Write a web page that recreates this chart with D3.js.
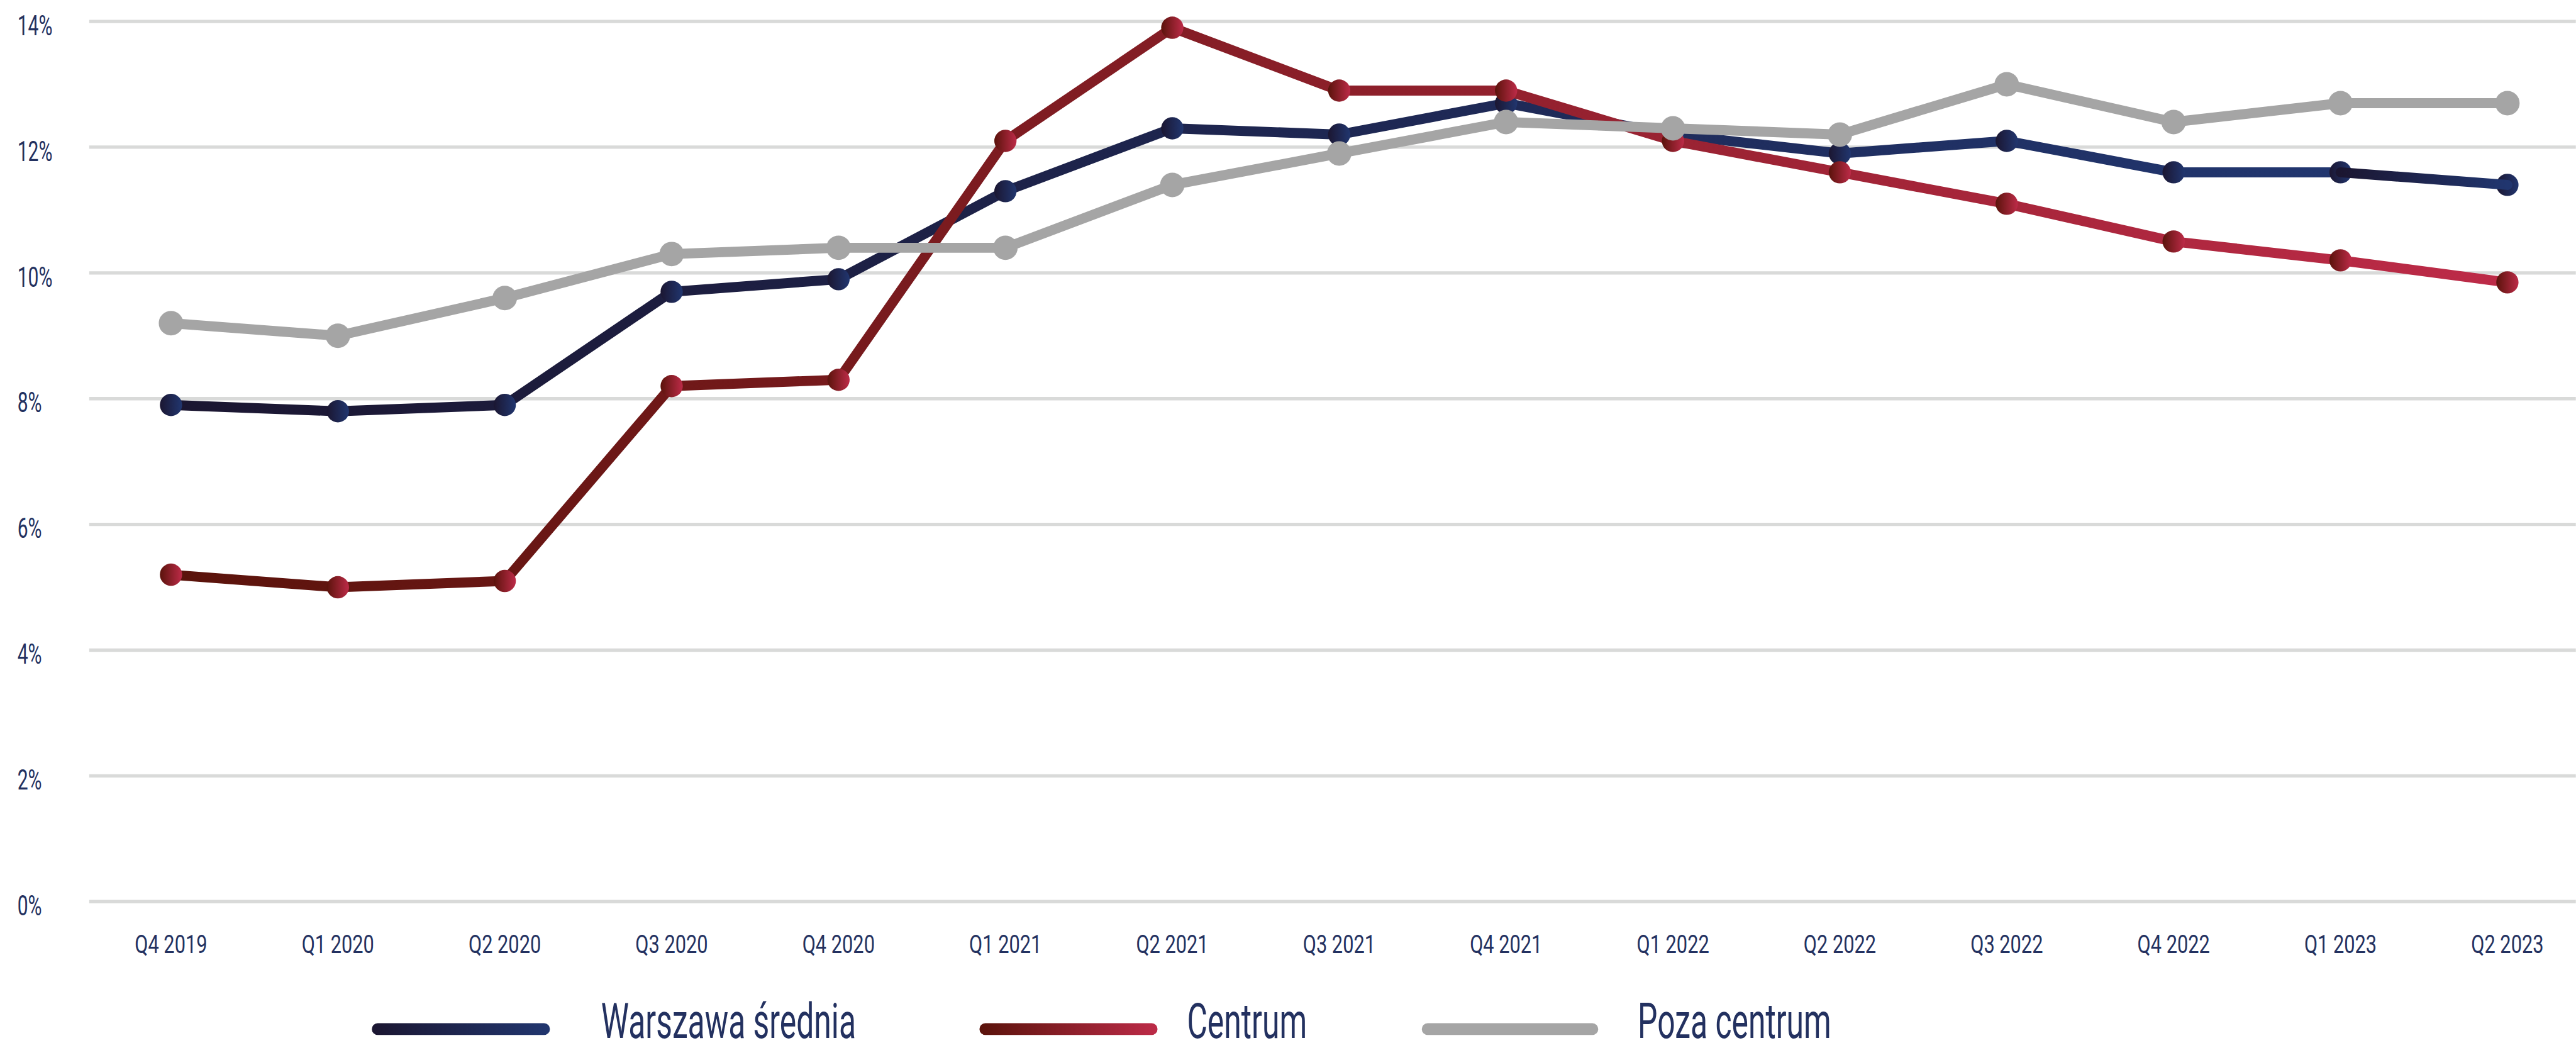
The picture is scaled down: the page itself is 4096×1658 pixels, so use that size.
<!DOCTYPE html>
<html>
<head>
<meta charset="utf-8">
<script src="https://cdn.jsdelivr.net/npm/d3@7"></script>
<style>
  html, body { margin: 0; padding: 0; background: #fff; overflow: hidden; }
  text { font-family: Roboto, 'Open Sans', sans-serif; font-weight: 400; fill: #233160; }
</style>
</head>
<body>
<svg id="chart" width="4096" height="1658" viewBox="0 0 4629 1874"></svg>
<script>
const categories = ['Q4 2019', 'Q1 2020', 'Q2 2020', 'Q3 2020', 'Q4 2020', 'Q1 2021', 'Q2 2021', 'Q3 2021',
  'Q4 2021', 'Q1 2022', 'Q2 2022', 'Q3 2022', 'Q4 2022', 'Q1 2023', 'Q2 2023'];
const warszawa = [7.9, 7.8, 7.9, 9.7, 9.9, 11.3, 12.3, 12.2, 12.7, 12.2, 11.9, 12.1, 11.6, 11.6, 11.4];
const centrum = [5.2, 5.0, 5.1, 8.2, 8.3, 12.1, 13.9, 12.9, 12.9, 12.1, 11.6, 11.1, 10.5, 10.2, 9.85];
const pozaCentrum = [9.2, 9.0, 9.6, 10.3, 10.4, 10.4, 11.4, 11.9, 12.4, 12.3, 12.2, 13.0, 12.4, 12.7, 12.7];
const yTicks = [0, 2, 4, 6, 8, 10, 12, 14];
const seriesNames = ['Warszawa średnia', 'Centrum', 'Poza centrum'];

const svg = d3.select('#chart');
const defs = svg.append('defs');

let scaleX = d3.scalePoint().domain(categories).range([307, 4506]);
let scaleY = d3.scaleLinear().domain([0, 14]).range([1620, 38.5]);

// gradients: [id, from, to]
const gradients = [
  ['grad-navy', '#1b1631', '#21366f'],
  ['grad-red', '#5a130b', '#bd2b48'],
  ['grad-grey', '#a5a5a5', '#a5a5a5']
];
gradients.forEach(([id, c0, c1]) => {
  let g = defs.append('linearGradient').attr('id', id).attr('x1', 0).attr('x2', 1).attr('y1', 0).attr('y2', 0);
  g.append('stop').attr('offset', '0%').attr('stop-color', c0);
  g.append('stop').attr('offset', '100%').attr('stop-color', c1);
});

// grid
const grid = svg.append('g').attr('class', 'grid');
grid.selectAll('line')
  .data(yTicks)
  .enter()
  .append('line')
  .attr('x1', 160)
  .attr('x2', 4629)
  .attr('y1', d => scaleY(d))
  .attr('y2', d => scaleY(d))
  .attr('stroke', '#d9dad9')
  .attr('stroke-width', 6);

// y labels
svg.append('g').selectAll('text')
  .data(yTicks)
  .enter()
  .append('text')
  .attr('transform', d => `translate(31, ${scaleY(d) + 24.5}) scale(0.68, 1)`)
  .attr('font-size', 50)
  .text(d => `${d}%`);

// x labels
svg.append('g').selectAll('text')
  .data(categories)
  .enter()
  .append('text')
  .attr('transform', d => `translate(${scaleX(d)}, 1712) scale(0.74, 1)`)
  .attr('text-anchor', 'middle')
  .attr('font-size', 47)
  .text(d => d);

const valueLine = d3.line()
  .x(d => scaleX(d.cat))
  .y(d => scaleY(d.value));

const toPoints = (values) => values.map((v, i) => ({ cat: categories[i], value: v }));

const drawSeries = (values, gradId, radius, splitLast) => {
  let pts = toPoints(values);
  let layer = svg.append('g');
  let mainPts = splitLast ? pts.slice(0, pts.length - 1) : pts;
  layer.append('path')
    .attr('d', valueLine(mainPts))
    .attr('fill', 'none')
    .attr('stroke', `url(#${gradId})`)
    .attr('stroke-width', 18)
    .attr('stroke-linejoin', 'round');
  layer.selectAll('.dot')
    .data(pts)
    .enter()
    .append('circle')
    .attr('class', 'dot')
    .attr('cx', d => scaleX(d.cat))
    .attr('cy', d => scaleY(d.value))
    .attr('r', radius)
    .attr('fill', `url(#${gradId})`);
  if (splitLast) {
    // last segment carries its own gradient in the original
    layer.append('path')
      .attr('d', valueLine(pts.slice(pts.length - 2)))
      .attr('fill', 'none')
      .attr('stroke', `url(#${gradId})`)
      .attr('stroke-width', 18)
      .attr('stroke-linecap', 'round');
  }
};

drawSeries(warszawa, 'grad-navy', 20, true);
drawSeries(centrum, 'grad-red', 20, false);
drawSeries(pozaCentrum, 'grad-grey', 22, false);

// legend
const legendItems = [
  { name: seriesNames[0], grad: 'grad-navy', x0: 668, x1: 988, tx: 1080 },
  { name: seriesNames[1], grad: 'grad-red', x0: 1760, x1: 2080, tx: 2133 },
  { name: seriesNames[2], grad: 'grad-grey', x0: 2555, x1: 2872, tx: 2943 }
];
const legend = svg.append('g').attr('class', 'legend');
legendItems.forEach((item) => {
  legend.append('rect')
    .attr('x', item.x0)
    .attr('y', 1849 - 10.5)
    .attr('width', item.x1 - item.x0)
    .attr('height', 21)
    .attr('rx', 10.5)
    .attr('fill', `url(#${item.grad})`);
  legend.append('text')
    .attr('transform', `translate(${item.tx}, 1865) scale(0.64, 1)`)
    .attr('font-size', 88)
    .text(item.name);
});
</script>
</body>
</html>
